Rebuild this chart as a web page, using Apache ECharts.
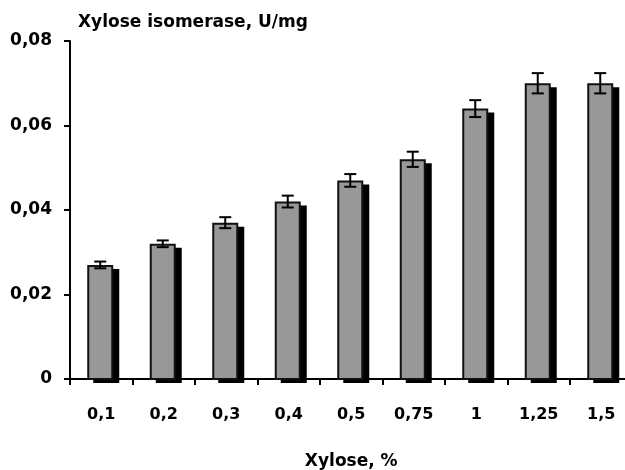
<!DOCTYPE html>
<html>
<head>
<meta charset="utf-8">
<script src="https://cdn.jsdelivr.net/npm/echarts@6/dist/echarts.min.js"></script>
<style>html,body{margin:0;padding:0;background:#fff}#c{width:625px;height:470px}</style>
</head>
<body>
<div id="c"></div>
<script>
const categories = ['0,1', '0,2', '0,3', '0,4', '0,5', '0,75', '1', '1,25', '1,5'];
const activity = [0.027, 0.032, 0.037, 0.042, 0.047, 0.052, 0.064, 0.070, 0.070];
const errors = [0.0008, 0.0008, 0.0013, 0.0014, 0.0015, 0.0018, 0.002, 0.0024, 0.0024];
const yTicks = [0, 0.02, 0.04, 0.06, 0.08];

const FONT = 'DejaVu Sans';
const chart = echarts.init(document.getElementById('c'), null, {renderer: 'canvas'});
const barData = activity.map((v, i) => [i, v]);
const errData = activity.map((v, i) => [i, v - errors[i], v + errors[i]]);

chart.setOption({
  animation: false,
  backgroundColor: '#fff',
  title: {
    text: 'Xylose isomerase, U/mg',
    left: 73, top: 9,
    textStyle: {fontFamily: FONT, fontWeight: 'bold', fontSize: 17, color: '#000'}
  },
  grid: {left: 70, top: 41, bottom: 91, right: -7.5, containLabel: false, outerBoundsMode: 'none'},
  xAxis: {
    type: 'category',
    data: categories,
    name: 'Xylose, %',
    nameLocation: 'middle',
    nameGap: 74,
    nameTextStyle: {fontFamily: FONT, fontWeight: 'bold', fontSize: 17, color: '#000'},
    axisLine: {lineStyle: {color: '#000', width: 2}},
    axisTick: {show: true, length: 6, inside: false, lineStyle: {color: '#000', width: 2}},
    axisLabel: {fontFamily: FONT, fontWeight: 'bold', fontSize: 16, color: '#000', margin: 28},
    splitLine: {show: false}
  },
  yAxis: {
    type: 'value',
    min: yTicks[0], max: yTicks[yTicks.length - 1], interval: 0.02,
    axisLine: {show: true, lineStyle: {color: '#000', width: 2}},
    axisTick: {show: true, length: 6, lineStyle: {color: '#000', width: 2}},
    axisLabel: {
      fontFamily: FONT, fontWeight: 'bold', fontSize: 17, color: '#000', margin: 18,
      formatter: v => v === 0 ? '0' : v.toFixed(2).replace('.', ',')
    },
    splitLine: {show: false}
  },
  series: [
    {
      type: 'custom',
      data: barData,
      z: 2,
      renderItem: function (params, api) {
        const i = api.value(0);
        const top = api.coord([i, api.value(1)]);
        const base = api.coord([i, 0]);
        const cx = top[0] - 1;
        const w = 26;
        return {
          type: 'group',
          children: [
            {type: 'rect', shape: {x: cx - w / 2 + 6, y: top[1] + 4, width: w, height: base[1] - top[1]},
             style: {fill: '#000'}},
            {type: 'rect', shape: {x: cx - w / 2 + 1, y: top[1] + 1, width: w - 2, height: base[1] - top[1] - 1},
             style: {fill: '#989898', stroke: '#111', lineWidth: 2}}
          ]
        };
      }
    },
    {
      type: 'custom',
      data: errData,
      z: 5,
      renderItem: function (params, api) {
        const i = api.value(0);
        const lo = api.coord([i, api.value(1)]);
        const hi = api.coord([i, api.value(2)]);
        const x = lo[0] - 1;
        const hw = 6;
        const st = {stroke: '#000', lineWidth: 2};
        return {
          type: 'group',
          children: [
            {type: 'line', shape: {x1: x, y1: lo[1], x2: x, y2: hi[1]}, style: st},
            {type: 'line', shape: {x1: x - hw, y1: lo[1], x2: x + hw, y2: lo[1]}, style: st},
            {type: 'line', shape: {x1: x - hw, y1: hi[1], x2: x + hw, y2: hi[1]}, style: st}
          ]
        };
      }
    }
  ]
});
</script>
</body>
</html>
